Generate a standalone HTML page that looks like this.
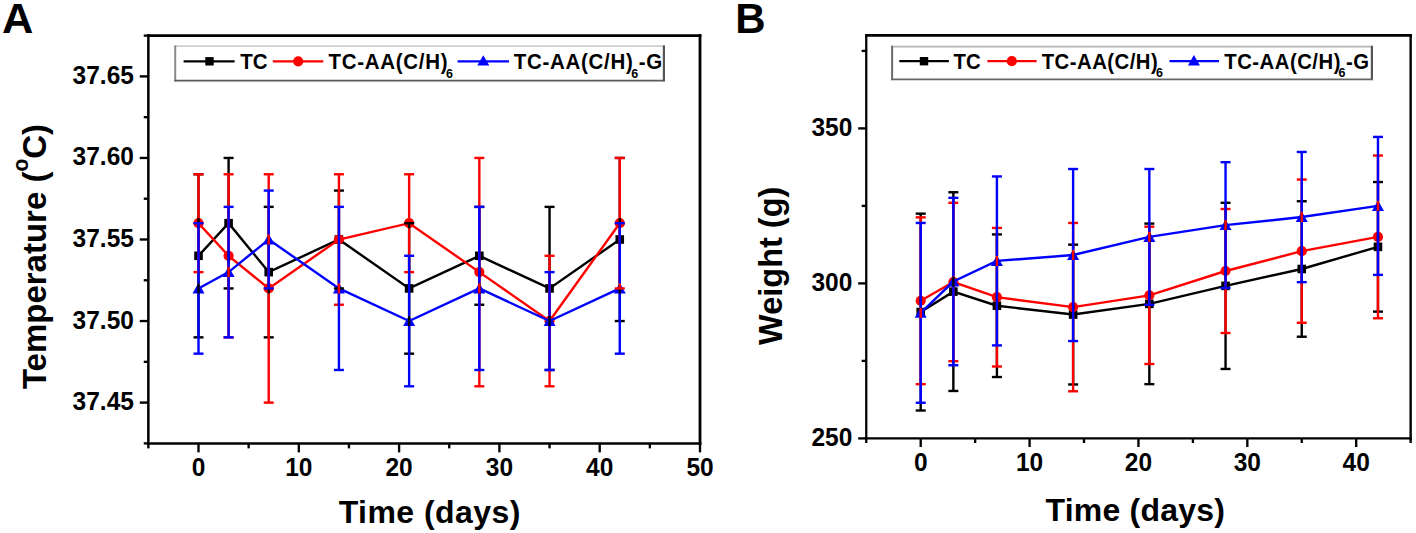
<!DOCTYPE html><html><head><meta charset="utf-8"><style>html,body{margin:0;padding:0;background:#fff;overflow:hidden;}svg{display:block}text{font-family:"Liberation Sans",sans-serif;font-weight:bold;fill:#000}</style></head><body>
<svg width="1416" height="533" viewBox="0 0 1416 533">
<rect width="1416" height="533" fill="#fff"/>
<text transform="translate(1.9 32.8)" font-size="43.4" text-anchor="start" >A</text>
<text transform="translate(735.3 32.9)" font-size="42" text-anchor="start" >B</text>
<line x1="147.1" y1="35.63" x2="701.4" y2="35.63" stroke="#000" stroke-width="2.8"/>
<line x1="700" y1="34.23" x2="700" y2="444.63" stroke="#000" stroke-width="2.8"/>
<line x1="147.1" y1="443.38" x2="701.4" y2="443.38" stroke="#000" stroke-width="2.5"/>
<line x1="148.35" y1="34.23" x2="148.35" y2="444.63" stroke="#000" stroke-width="2.5"/>
<line x1="139.75" y1="402.6" x2="148.35" y2="402.6" stroke="#000" stroke-width="2.35"/>
<text transform="translate(133.9 410.1) scale(1.0 1.055)" font-size="24.5" text-anchor="end" >37.45</text>
<line x1="139.75" y1="321.05" x2="148.35" y2="321.05" stroke="#000" stroke-width="2.35"/>
<text transform="translate(133.9 328.55) scale(1.0 1.055)" font-size="24.5" text-anchor="end" >37.50</text>
<line x1="139.75" y1="239.5" x2="148.35" y2="239.5" stroke="#000" stroke-width="2.35"/>
<text transform="translate(133.9 247) scale(1.0 1.055)" font-size="24.5" text-anchor="end" >37.55</text>
<line x1="139.75" y1="157.95" x2="148.35" y2="157.95" stroke="#000" stroke-width="2.35"/>
<text transform="translate(133.9 165.45) scale(1.0 1.055)" font-size="24.5" text-anchor="end" >37.60</text>
<line x1="139.75" y1="76.4" x2="148.35" y2="76.4" stroke="#000" stroke-width="2.35"/>
<text transform="translate(133.9 83.9) scale(1.0 1.055)" font-size="24.5" text-anchor="end" >37.65</text>
<line x1="143.75" y1="443.38" x2="148.35" y2="443.38" stroke="#000" stroke-width="2.35"/>
<line x1="143.75" y1="361.83" x2="148.35" y2="361.83" stroke="#000" stroke-width="2.35"/>
<line x1="143.75" y1="280.27" x2="148.35" y2="280.27" stroke="#000" stroke-width="2.35"/>
<line x1="143.75" y1="198.73" x2="148.35" y2="198.73" stroke="#000" stroke-width="2.35"/>
<line x1="143.75" y1="117.17" x2="148.35" y2="117.17" stroke="#000" stroke-width="2.35"/>
<line x1="143.75" y1="35.63" x2="148.35" y2="35.63" stroke="#000" stroke-width="2.35"/>
<line x1="198.5" y1="443.38" x2="198.5" y2="452.38" stroke="#000" stroke-width="2.35"/>
<text transform="translate(198.5 476.2) scale(1.0 1.055)" font-size="24.5" text-anchor="middle" >0</text>
<line x1="298.8" y1="443.38" x2="298.8" y2="452.38" stroke="#000" stroke-width="2.35"/>
<text transform="translate(298.8 476.2) scale(1.0 1.055)" font-size="24.5" text-anchor="middle" >10</text>
<line x1="399.1" y1="443.38" x2="399.1" y2="452.38" stroke="#000" stroke-width="2.35"/>
<text transform="translate(399.1 476.2) scale(1.0 1.055)" font-size="24.5" text-anchor="middle" >20</text>
<line x1="499.4" y1="443.38" x2="499.4" y2="452.38" stroke="#000" stroke-width="2.35"/>
<text transform="translate(499.4 476.2) scale(1.0 1.055)" font-size="24.5" text-anchor="middle" >30</text>
<line x1="599.7" y1="443.38" x2="599.7" y2="452.38" stroke="#000" stroke-width="2.35"/>
<text transform="translate(599.7 476.2) scale(1.0 1.055)" font-size="24.5" text-anchor="middle" >40</text>
<line x1="700" y1="443.38" x2="700" y2="452.38" stroke="#000" stroke-width="2.35"/>
<text transform="translate(700 476.2) scale(1.0 1.055)" font-size="24.5" text-anchor="middle" >50</text>
<line x1="148.35" y1="443.38" x2="148.35" y2="448.38" stroke="#000" stroke-width="2.35"/>
<line x1="248.65" y1="443.38" x2="248.65" y2="448.38" stroke="#000" stroke-width="2.35"/>
<line x1="348.95" y1="443.38" x2="348.95" y2="448.38" stroke="#000" stroke-width="2.35"/>
<line x1="449.25" y1="443.38" x2="449.25" y2="448.38" stroke="#000" stroke-width="2.35"/>
<line x1="549.55" y1="443.38" x2="549.55" y2="448.38" stroke="#000" stroke-width="2.35"/>
<line x1="649.85" y1="443.38" x2="649.85" y2="448.38" stroke="#000" stroke-width="2.35"/>
<text transform="translate(429.8 522.7)" font-size="32" text-anchor="middle" letter-spacing="0.45" >Time (days)</text>
<text transform="translate(45.7 256.5) rotate(-90) scale(1 1.026)" font-size="33" text-anchor="middle">Temperature (<tspan font-size="21" dy="-17">o</tspan><tspan dy="17">C)</tspan></text>
<line x1="865.11" y1="35.4" x2="1411.84" y2="35.4" stroke="#000" stroke-width="2.7"/>
<line x1="1410.64" y1="34.05" x2="1410.64" y2="439.55" stroke="#000" stroke-width="2.4"/>
<line x1="865.11" y1="438.4" x2="1411.84" y2="438.4" stroke="#000" stroke-width="2.3"/>
<line x1="866.26" y1="34.05" x2="866.26" y2="439.55" stroke="#000" stroke-width="2.3"/>
<line x1="858.16" y1="438.4" x2="866.26" y2="438.4" stroke="#000" stroke-width="2.35"/>
<text transform="translate(852.3 445.6) scale(1.0 1.055)" font-size="24.5" text-anchor="end" >250</text>
<line x1="858.16" y1="283.4" x2="866.26" y2="283.4" stroke="#000" stroke-width="2.35"/>
<text transform="translate(852.3 290.6) scale(1.0 1.055)" font-size="24.5" text-anchor="end" >300</text>
<line x1="858.16" y1="128.4" x2="866.26" y2="128.4" stroke="#000" stroke-width="2.35"/>
<text transform="translate(852.3 135.6) scale(1.0 1.055)" font-size="24.5" text-anchor="end" >350</text>
<line x1="861.66" y1="360.9" x2="866.26" y2="360.9" stroke="#000" stroke-width="2.35"/>
<line x1="861.66" y1="205.9" x2="866.26" y2="205.9" stroke="#000" stroke-width="2.35"/>
<line x1="861.66" y1="50.9" x2="866.26" y2="50.9" stroke="#000" stroke-width="2.35"/>
<line x1="920.7" y1="438.4" x2="920.7" y2="447" stroke="#000" stroke-width="2.35"/>
<text transform="translate(920.7 471.15) scale(1.0 1.055)" font-size="24.5" text-anchor="middle" >0</text>
<line x1="1029.58" y1="438.4" x2="1029.58" y2="447" stroke="#000" stroke-width="2.35"/>
<text transform="translate(1029.58 471.15) scale(1.0 1.055)" font-size="24.5" text-anchor="middle" >10</text>
<line x1="1138.45" y1="438.4" x2="1138.45" y2="447" stroke="#000" stroke-width="2.35"/>
<text transform="translate(1138.45 471.15) scale(1.0 1.055)" font-size="24.5" text-anchor="middle" >20</text>
<line x1="1247.33" y1="438.4" x2="1247.33" y2="447" stroke="#000" stroke-width="2.35"/>
<text transform="translate(1247.33 471.15) scale(1.0 1.055)" font-size="24.5" text-anchor="middle" >30</text>
<line x1="1356.2" y1="438.4" x2="1356.2" y2="447" stroke="#000" stroke-width="2.35"/>
<text transform="translate(1356.2 471.15) scale(1.0 1.055)" font-size="24.5" text-anchor="middle" >40</text>
<line x1="866.26" y1="438.4" x2="866.26" y2="443" stroke="#000" stroke-width="2.35"/>
<line x1="975.14" y1="438.4" x2="975.14" y2="443" stroke="#000" stroke-width="2.35"/>
<line x1="1084.01" y1="438.4" x2="1084.01" y2="443" stroke="#000" stroke-width="2.35"/>
<line x1="1192.89" y1="438.4" x2="1192.89" y2="443" stroke="#000" stroke-width="2.35"/>
<line x1="1301.76" y1="438.4" x2="1301.76" y2="443" stroke="#000" stroke-width="2.35"/>
<line x1="1410.64" y1="438.4" x2="1410.64" y2="443" stroke="#000" stroke-width="2.35"/>
<text transform="translate(1135.3 521.4)" font-size="32" text-anchor="middle" letter-spacing="0.2" >Time (days)</text>
<text transform="translate(781.5 265.8) rotate(-90) scale(1 1.015)" font-size="32.5" text-anchor="middle">Weight (g)</text>
<polyline points="198.5,255.81 228.59,223.19 268.71,272.12 338.92,239.5 409.13,288.43 479.34,255.81 549.55,288.43 619.76,239.5" fill="none" stroke="#000" stroke-width="2.4" stroke-linejoin="miter"/>
<rect x="194.2" y="251.51" width="8.6" height="8.6" fill="#000"/>
<rect x="224.29" y="218.89" width="8.6" height="8.6" fill="#000"/>
<rect x="264.41" y="267.82" width="8.6" height="8.6" fill="#000"/>
<rect x="334.62" y="235.2" width="8.6" height="8.6" fill="#000"/>
<rect x="404.83" y="284.13" width="8.6" height="8.6" fill="#000"/>
<rect x="475.04" y="251.51" width="8.6" height="8.6" fill="#000"/>
<rect x="545.25" y="284.13" width="8.6" height="8.6" fill="#000"/>
<rect x="615.46" y="235.2" width="8.6" height="8.6" fill="#000"/>
<polyline points="198.5,223.19 228.59,255.81 268.71,288.43 338.92,239.5 409.13,223.19 479.34,272.12 549.55,321.05 619.76,223.19" fill="none" stroke="#ff0000" stroke-width="2.4" stroke-linejoin="miter"/>
<circle cx="198.5" cy="223.19" r="5.1" fill="#ff0000"/>
<circle cx="228.59" cy="255.81" r="5.1" fill="#ff0000"/>
<circle cx="268.71" cy="288.43" r="5.1" fill="#ff0000"/>
<circle cx="338.92" cy="239.5" r="5.1" fill="#ff0000"/>
<circle cx="409.13" cy="223.19" r="5.1" fill="#ff0000"/>
<circle cx="479.34" cy="272.12" r="5.1" fill="#ff0000"/>
<circle cx="549.55" cy="321.05" r="5.1" fill="#ff0000"/>
<circle cx="619.76" cy="223.19" r="5.1" fill="#ff0000"/>
<polyline points="198.5,288.43 228.59,272.12 268.71,239.5 338.92,288.43 409.13,321.05 479.34,288.43 549.55,321.05 619.76,288.43" fill="none" stroke="#0000ff" stroke-width="2.4" stroke-linejoin="miter"/>
<path d="M198.5 282.73L204.5 293.43L192.5 293.43Z" fill="#0000ff"/>
<path d="M228.59 266.42L234.59 277.12L222.59 277.12Z" fill="#0000ff"/>
<path d="M268.71 233.8L274.71 244.5L262.71 244.5Z" fill="#0000ff"/>
<path d="M338.92 282.73L344.92 293.43L332.92 293.43Z" fill="#0000ff"/>
<path d="M409.13 315.35L415.13 326.05L403.13 326.05Z" fill="#0000ff"/>
<path d="M479.34 282.73L485.34 293.43L473.34 293.43Z" fill="#0000ff"/>
<path d="M549.55 315.35L555.55 326.05L543.55 326.05Z" fill="#0000ff"/>
<path d="M619.76 282.73L625.76 293.43L613.76 293.43Z" fill="#0000ff"/>
<line x1="198.5" y1="174.26" x2="198.5" y2="251.51" stroke="#000" stroke-width="2.4"/>
<line x1="198.5" y1="260.11" x2="198.5" y2="337.36" stroke="#000" stroke-width="2.4"/>
<line x1="193.5" y1="174.26" x2="203.5" y2="174.26" stroke="#000" stroke-width="2.4"/>
<line x1="193.5" y1="337.36" x2="203.5" y2="337.36" stroke="#000" stroke-width="2.4"/>
<line x1="228.59" y1="157.95" x2="228.59" y2="218.89" stroke="#000" stroke-width="2.4"/>
<line x1="228.59" y1="227.49" x2="228.59" y2="288.43" stroke="#000" stroke-width="2.4"/>
<line x1="223.59" y1="157.95" x2="233.59" y2="157.95" stroke="#000" stroke-width="2.4"/>
<line x1="223.59" y1="288.43" x2="233.59" y2="288.43" stroke="#000" stroke-width="2.4"/>
<line x1="268.71" y1="206.88" x2="268.71" y2="267.82" stroke="#000" stroke-width="2.4"/>
<line x1="268.71" y1="276.42" x2="268.71" y2="337.36" stroke="#000" stroke-width="2.4"/>
<line x1="263.71" y1="206.88" x2="273.71" y2="206.88" stroke="#000" stroke-width="2.4"/>
<line x1="263.71" y1="337.36" x2="273.71" y2="337.36" stroke="#000" stroke-width="2.4"/>
<line x1="338.92" y1="190.57" x2="338.92" y2="235.2" stroke="#000" stroke-width="2.4"/>
<line x1="338.92" y1="243.8" x2="338.92" y2="288.43" stroke="#000" stroke-width="2.4"/>
<line x1="333.92" y1="190.57" x2="343.92" y2="190.57" stroke="#000" stroke-width="2.4"/>
<line x1="333.92" y1="288.43" x2="343.92" y2="288.43" stroke="#000" stroke-width="2.4"/>
<line x1="409.13" y1="223.19" x2="409.13" y2="284.13" stroke="#000" stroke-width="2.4"/>
<line x1="409.13" y1="292.73" x2="409.13" y2="353.67" stroke="#000" stroke-width="2.4"/>
<line x1="404.13" y1="223.19" x2="414.13" y2="223.19" stroke="#000" stroke-width="2.4"/>
<line x1="404.13" y1="353.67" x2="414.13" y2="353.67" stroke="#000" stroke-width="2.4"/>
<line x1="479.34" y1="206.88" x2="479.34" y2="251.51" stroke="#000" stroke-width="2.4"/>
<line x1="479.34" y1="260.11" x2="479.34" y2="304.74" stroke="#000" stroke-width="2.4"/>
<line x1="474.34" y1="206.88" x2="484.34" y2="206.88" stroke="#000" stroke-width="2.4"/>
<line x1="474.34" y1="304.74" x2="484.34" y2="304.74" stroke="#000" stroke-width="2.4"/>
<line x1="549.55" y1="206.88" x2="549.55" y2="284.13" stroke="#000" stroke-width="2.4"/>
<line x1="549.55" y1="292.73" x2="549.55" y2="369.98" stroke="#000" stroke-width="2.4"/>
<line x1="544.55" y1="206.88" x2="554.55" y2="206.88" stroke="#000" stroke-width="2.4"/>
<line x1="544.55" y1="369.98" x2="554.55" y2="369.98" stroke="#000" stroke-width="2.4"/>
<line x1="619.76" y1="157.95" x2="619.76" y2="235.2" stroke="#000" stroke-width="2.4"/>
<line x1="619.76" y1="243.8" x2="619.76" y2="321.05" stroke="#000" stroke-width="2.4"/>
<line x1="614.76" y1="157.95" x2="624.76" y2="157.95" stroke="#000" stroke-width="2.4"/>
<line x1="614.76" y1="321.05" x2="624.76" y2="321.05" stroke="#000" stroke-width="2.4"/>
<line x1="198.5" y1="174.26" x2="198.5" y2="218.09" stroke="#ff0000" stroke-width="2.4"/>
<line x1="198.5" y1="228.29" x2="198.5" y2="272.12" stroke="#ff0000" stroke-width="2.4"/>
<line x1="193.5" y1="174.26" x2="203.5" y2="174.26" stroke="#ff0000" stroke-width="2.4"/>
<line x1="193.5" y1="272.12" x2="203.5" y2="272.12" stroke="#ff0000" stroke-width="2.4"/>
<line x1="228.59" y1="174.26" x2="228.59" y2="250.71" stroke="#ff0000" stroke-width="2.4"/>
<line x1="228.59" y1="260.91" x2="228.59" y2="337.36" stroke="#ff0000" stroke-width="2.4"/>
<line x1="223.59" y1="174.26" x2="233.59" y2="174.26" stroke="#ff0000" stroke-width="2.4"/>
<line x1="223.59" y1="337.36" x2="233.59" y2="337.36" stroke="#ff0000" stroke-width="2.4"/>
<line x1="268.71" y1="174.26" x2="268.71" y2="283.33" stroke="#ff0000" stroke-width="2.4"/>
<line x1="268.71" y1="293.53" x2="268.71" y2="402.6" stroke="#ff0000" stroke-width="2.4"/>
<line x1="263.71" y1="174.26" x2="273.71" y2="174.26" stroke="#ff0000" stroke-width="2.4"/>
<line x1="263.71" y1="402.6" x2="273.71" y2="402.6" stroke="#ff0000" stroke-width="2.4"/>
<line x1="338.92" y1="174.26" x2="338.92" y2="234.4" stroke="#ff0000" stroke-width="2.4"/>
<line x1="338.92" y1="244.6" x2="338.92" y2="304.74" stroke="#ff0000" stroke-width="2.4"/>
<line x1="333.92" y1="174.26" x2="343.92" y2="174.26" stroke="#ff0000" stroke-width="2.4"/>
<line x1="333.92" y1="304.74" x2="343.92" y2="304.74" stroke="#ff0000" stroke-width="2.4"/>
<line x1="409.13" y1="174.26" x2="409.13" y2="218.09" stroke="#ff0000" stroke-width="2.4"/>
<line x1="409.13" y1="228.29" x2="409.13" y2="272.12" stroke="#ff0000" stroke-width="2.4"/>
<line x1="404.13" y1="174.26" x2="414.13" y2="174.26" stroke="#ff0000" stroke-width="2.4"/>
<line x1="404.13" y1="272.12" x2="414.13" y2="272.12" stroke="#ff0000" stroke-width="2.4"/>
<line x1="479.34" y1="157.95" x2="479.34" y2="267.02" stroke="#ff0000" stroke-width="2.4"/>
<line x1="479.34" y1="277.22" x2="479.34" y2="386.29" stroke="#ff0000" stroke-width="2.4"/>
<line x1="474.34" y1="157.95" x2="484.34" y2="157.95" stroke="#ff0000" stroke-width="2.4"/>
<line x1="474.34" y1="386.29" x2="484.34" y2="386.29" stroke="#ff0000" stroke-width="2.4"/>
<line x1="549.55" y1="255.81" x2="549.55" y2="315.95" stroke="#ff0000" stroke-width="2.4"/>
<line x1="549.55" y1="326.15" x2="549.55" y2="386.29" stroke="#ff0000" stroke-width="2.4"/>
<line x1="544.55" y1="255.81" x2="554.55" y2="255.81" stroke="#ff0000" stroke-width="2.4"/>
<line x1="544.55" y1="386.29" x2="554.55" y2="386.29" stroke="#ff0000" stroke-width="2.4"/>
<line x1="619.76" y1="157.95" x2="619.76" y2="218.09" stroke="#ff0000" stroke-width="2.4"/>
<line x1="619.76" y1="228.29" x2="619.76" y2="288.43" stroke="#ff0000" stroke-width="2.4"/>
<line x1="614.76" y1="157.95" x2="624.76" y2="157.95" stroke="#ff0000" stroke-width="2.4"/>
<line x1="614.76" y1="288.43" x2="624.76" y2="288.43" stroke="#ff0000" stroke-width="2.4"/>
<line x1="198.5" y1="223.19" x2="198.5" y2="283.43" stroke="#0000ff" stroke-width="2.4"/>
<line x1="198.5" y1="293.43" x2="198.5" y2="353.67" stroke="#0000ff" stroke-width="2.4"/>
<line x1="193.5" y1="223.19" x2="203.5" y2="223.19" stroke="#0000ff" stroke-width="2.4"/>
<line x1="193.5" y1="353.67" x2="203.5" y2="353.67" stroke="#0000ff" stroke-width="2.4"/>
<line x1="228.59" y1="206.88" x2="228.59" y2="267.12" stroke="#0000ff" stroke-width="2.4"/>
<line x1="228.59" y1="277.12" x2="228.59" y2="337.36" stroke="#0000ff" stroke-width="2.4"/>
<line x1="223.59" y1="206.88" x2="233.59" y2="206.88" stroke="#0000ff" stroke-width="2.4"/>
<line x1="223.59" y1="337.36" x2="233.59" y2="337.36" stroke="#0000ff" stroke-width="2.4"/>
<line x1="268.71" y1="190.57" x2="268.71" y2="234.5" stroke="#0000ff" stroke-width="2.4"/>
<line x1="268.71" y1="244.5" x2="268.71" y2="288.43" stroke="#0000ff" stroke-width="2.4"/>
<line x1="263.71" y1="190.57" x2="273.71" y2="190.57" stroke="#0000ff" stroke-width="2.4"/>
<line x1="263.71" y1="288.43" x2="273.71" y2="288.43" stroke="#0000ff" stroke-width="2.4"/>
<line x1="338.92" y1="206.88" x2="338.92" y2="283.43" stroke="#0000ff" stroke-width="2.4"/>
<line x1="338.92" y1="293.43" x2="338.92" y2="369.98" stroke="#0000ff" stroke-width="2.4"/>
<line x1="333.92" y1="206.88" x2="343.92" y2="206.88" stroke="#0000ff" stroke-width="2.4"/>
<line x1="333.92" y1="369.98" x2="343.92" y2="369.98" stroke="#0000ff" stroke-width="2.4"/>
<line x1="409.13" y1="255.81" x2="409.13" y2="316.05" stroke="#0000ff" stroke-width="2.4"/>
<line x1="409.13" y1="326.05" x2="409.13" y2="386.29" stroke="#0000ff" stroke-width="2.4"/>
<line x1="404.13" y1="255.81" x2="414.13" y2="255.81" stroke="#0000ff" stroke-width="2.4"/>
<line x1="404.13" y1="386.29" x2="414.13" y2="386.29" stroke="#0000ff" stroke-width="2.4"/>
<line x1="479.34" y1="206.88" x2="479.34" y2="283.43" stroke="#0000ff" stroke-width="2.4"/>
<line x1="479.34" y1="293.43" x2="479.34" y2="369.98" stroke="#0000ff" stroke-width="2.4"/>
<line x1="474.34" y1="206.88" x2="484.34" y2="206.88" stroke="#0000ff" stroke-width="2.4"/>
<line x1="474.34" y1="369.98" x2="484.34" y2="369.98" stroke="#0000ff" stroke-width="2.4"/>
<line x1="549.55" y1="272.12" x2="549.55" y2="316.05" stroke="#0000ff" stroke-width="2.4"/>
<line x1="549.55" y1="326.05" x2="549.55" y2="369.98" stroke="#0000ff" stroke-width="2.4"/>
<line x1="544.55" y1="272.12" x2="554.55" y2="272.12" stroke="#0000ff" stroke-width="2.4"/>
<line x1="544.55" y1="369.98" x2="554.55" y2="369.98" stroke="#0000ff" stroke-width="2.4"/>
<line x1="619.76" y1="223.19" x2="619.76" y2="283.43" stroke="#0000ff" stroke-width="2.4"/>
<line x1="619.76" y1="293.43" x2="619.76" y2="353.67" stroke="#0000ff" stroke-width="2.4"/>
<line x1="614.76" y1="223.19" x2="624.76" y2="223.19" stroke="#0000ff" stroke-width="2.4"/>
<line x1="614.76" y1="353.67" x2="624.76" y2="353.67" stroke="#0000ff" stroke-width="2.4"/>
<polyline points="920.7,312.07 953.36,291.61 996.91,305.72 1073.12,314.56 1149.34,303.86 1225.55,285.88 1301.76,268.99 1377.97,246.82" fill="none" stroke="#000" stroke-width="2.4" stroke-linejoin="miter"/>
<rect x="916.4" y="307.77" width="8.6" height="8.6" fill="#000"/>
<rect x="949.06" y="287.31" width="8.6" height="8.6" fill="#000"/>
<rect x="992.61" y="301.42" width="8.6" height="8.6" fill="#000"/>
<rect x="1068.83" y="310.25" width="8.6" height="8.6" fill="#000"/>
<rect x="1145.04" y="299.56" width="8.6" height="8.6" fill="#000"/>
<rect x="1221.25" y="281.58" width="8.6" height="8.6" fill="#000"/>
<rect x="1297.46" y="264.69" width="8.6" height="8.6" fill="#000"/>
<rect x="1373.67" y="242.52" width="8.6" height="8.6" fill="#000"/>
<polyline points="920.7,300.76 953.36,282 996.91,297.19 1073.12,307.11 1149.34,295.34 1225.55,271 1301.76,251.16 1377.97,236.9" fill="none" stroke="#ff0000" stroke-width="2.4" stroke-linejoin="miter"/>
<circle cx="920.7" cy="300.76" r="5.1" fill="#ff0000"/>
<circle cx="953.36" cy="282" r="5.1" fill="#ff0000"/>
<circle cx="996.91" cy="297.19" r="5.1" fill="#ff0000"/>
<circle cx="1073.12" cy="307.11" r="5.1" fill="#ff0000"/>
<circle cx="1149.34" cy="295.34" r="5.1" fill="#ff0000"/>
<circle cx="1225.55" cy="271" r="5.1" fill="#ff0000"/>
<circle cx="1301.76" cy="251.16" r="5.1" fill="#ff0000"/>
<circle cx="1377.97" cy="236.9" r="5.1" fill="#ff0000"/>
<polyline points="920.7,312.85 953.36,281.54 996.91,260.92 1073.12,255.04 1149.34,236.9 1225.55,225.12 1301.76,217.06 1377.97,205.9" fill="none" stroke="#0000ff" stroke-width="2.4" stroke-linejoin="miter"/>
<path d="M920.7 307.15L926.7 317.85L914.7 317.85Z" fill="#0000ff"/>
<path d="M953.36 275.84L959.36 286.54L947.36 286.54Z" fill="#0000ff"/>
<path d="M996.91 255.22L1002.91 265.92L990.91 265.92Z" fill="#0000ff"/>
<path d="M1073.12 249.34L1079.12 260.04L1067.12 260.04Z" fill="#0000ff"/>
<path d="M1149.34 231.2L1155.34 241.9L1143.34 241.9Z" fill="#0000ff"/>
<path d="M1225.55 219.42L1231.55 230.12L1219.55 230.12Z" fill="#0000ff"/>
<path d="M1301.76 211.36L1307.76 222.06L1295.76 222.06Z" fill="#0000ff"/>
<path d="M1377.97 200.2L1383.97 210.9L1371.97 210.9Z" fill="#0000ff"/>
<line x1="920.7" y1="213.65" x2="920.7" y2="307.77" stroke="#000" stroke-width="2.4"/>
<line x1="920.7" y1="316.38" x2="920.7" y2="410.5" stroke="#000" stroke-width="2.4"/>
<line x1="915.7" y1="213.65" x2="925.7" y2="213.65" stroke="#000" stroke-width="2.4"/>
<line x1="915.7" y1="410.5" x2="925.7" y2="410.5" stroke="#000" stroke-width="2.4"/>
<line x1="953.36" y1="192.26" x2="953.36" y2="287.31" stroke="#000" stroke-width="2.4"/>
<line x1="953.36" y1="295.91" x2="953.36" y2="390.97" stroke="#000" stroke-width="2.4"/>
<line x1="948.36" y1="192.26" x2="958.36" y2="192.26" stroke="#000" stroke-width="2.4"/>
<line x1="948.36" y1="390.97" x2="958.36" y2="390.97" stroke="#000" stroke-width="2.4"/>
<line x1="996.91" y1="234.42" x2="996.91" y2="301.42" stroke="#000" stroke-width="2.4"/>
<line x1="996.91" y1="310.02" x2="996.91" y2="377.02" stroke="#000" stroke-width="2.4"/>
<line x1="991.91" y1="234.42" x2="1001.91" y2="234.42" stroke="#000" stroke-width="2.4"/>
<line x1="991.91" y1="377.02" x2="1001.91" y2="377.02" stroke="#000" stroke-width="2.4"/>
<line x1="1073.12" y1="244.65" x2="1073.12" y2="310.25" stroke="#000" stroke-width="2.4"/>
<line x1="1073.12" y1="318.86" x2="1073.12" y2="384.46" stroke="#000" stroke-width="2.4"/>
<line x1="1068.12" y1="244.65" x2="1078.12" y2="244.65" stroke="#000" stroke-width="2.4"/>
<line x1="1068.12" y1="384.46" x2="1078.12" y2="384.46" stroke="#000" stroke-width="2.4"/>
<line x1="1149.34" y1="223.57" x2="1149.34" y2="299.56" stroke="#000" stroke-width="2.4"/>
<line x1="1149.34" y1="308.16" x2="1149.34" y2="384.15" stroke="#000" stroke-width="2.4"/>
<line x1="1144.34" y1="223.57" x2="1154.34" y2="223.57" stroke="#000" stroke-width="2.4"/>
<line x1="1144.34" y1="384.15" x2="1154.34" y2="384.15" stroke="#000" stroke-width="2.4"/>
<line x1="1225.55" y1="202.8" x2="1225.55" y2="281.58" stroke="#000" stroke-width="2.4"/>
<line x1="1225.55" y1="290.18" x2="1225.55" y2="368.96" stroke="#000" stroke-width="2.4"/>
<line x1="1220.55" y1="202.8" x2="1230.55" y2="202.8" stroke="#000" stroke-width="2.4"/>
<line x1="1220.55" y1="368.96" x2="1230.55" y2="368.96" stroke="#000" stroke-width="2.4"/>
<line x1="1301.76" y1="201.25" x2="1301.76" y2="264.69" stroke="#000" stroke-width="2.4"/>
<line x1="1301.76" y1="273.29" x2="1301.76" y2="336.72" stroke="#000" stroke-width="2.4"/>
<line x1="1296.76" y1="201.25" x2="1306.76" y2="201.25" stroke="#000" stroke-width="2.4"/>
<line x1="1296.76" y1="336.72" x2="1306.76" y2="336.72" stroke="#000" stroke-width="2.4"/>
<line x1="1377.97" y1="182.03" x2="1377.97" y2="242.52" stroke="#000" stroke-width="2.4"/>
<line x1="1377.97" y1="251.12" x2="1377.97" y2="311.61" stroke="#000" stroke-width="2.4"/>
<line x1="1372.97" y1="182.03" x2="1382.97" y2="182.03" stroke="#000" stroke-width="2.4"/>
<line x1="1372.97" y1="311.61" x2="1382.97" y2="311.61" stroke="#000" stroke-width="2.4"/>
<line x1="920.7" y1="217.37" x2="920.7" y2="295.66" stroke="#ff0000" stroke-width="2.4"/>
<line x1="920.7" y1="305.86" x2="920.7" y2="384.15" stroke="#ff0000" stroke-width="2.4"/>
<line x1="915.7" y1="217.37" x2="925.7" y2="217.37" stroke="#ff0000" stroke-width="2.4"/>
<line x1="915.7" y1="384.15" x2="925.7" y2="384.15" stroke="#ff0000" stroke-width="2.4"/>
<line x1="953.36" y1="202.8" x2="953.36" y2="276.9" stroke="#ff0000" stroke-width="2.4"/>
<line x1="953.36" y1="287.11" x2="953.36" y2="361.21" stroke="#ff0000" stroke-width="2.4"/>
<line x1="948.36" y1="202.8" x2="958.36" y2="202.8" stroke="#ff0000" stroke-width="2.4"/>
<line x1="948.36" y1="361.21" x2="958.36" y2="361.21" stroke="#ff0000" stroke-width="2.4"/>
<line x1="996.91" y1="227.91" x2="996.91" y2="292.09" stroke="#ff0000" stroke-width="2.4"/>
<line x1="996.91" y1="302.29" x2="996.91" y2="366.48" stroke="#ff0000" stroke-width="2.4"/>
<line x1="991.91" y1="227.91" x2="1001.91" y2="227.91" stroke="#ff0000" stroke-width="2.4"/>
<line x1="991.91" y1="366.48" x2="1001.91" y2="366.48" stroke="#ff0000" stroke-width="2.4"/>
<line x1="1073.12" y1="222.95" x2="1073.12" y2="302.01" stroke="#ff0000" stroke-width="2.4"/>
<line x1="1073.12" y1="312.21" x2="1073.12" y2="391.28" stroke="#ff0000" stroke-width="2.4"/>
<line x1="1068.12" y1="222.95" x2="1078.12" y2="222.95" stroke="#ff0000" stroke-width="2.4"/>
<line x1="1068.12" y1="391.28" x2="1078.12" y2="391.28" stroke="#ff0000" stroke-width="2.4"/>
<line x1="1149.34" y1="226.67" x2="1149.34" y2="290.24" stroke="#ff0000" stroke-width="2.4"/>
<line x1="1149.34" y1="300.44" x2="1149.34" y2="364" stroke="#ff0000" stroke-width="2.4"/>
<line x1="1144.34" y1="226.67" x2="1154.34" y2="226.67" stroke="#ff0000" stroke-width="2.4"/>
<line x1="1144.34" y1="364" x2="1154.34" y2="364" stroke="#ff0000" stroke-width="2.4"/>
<line x1="1225.55" y1="209" x2="1225.55" y2="265.9" stroke="#ff0000" stroke-width="2.4"/>
<line x1="1225.55" y1="276.1" x2="1225.55" y2="333" stroke="#ff0000" stroke-width="2.4"/>
<line x1="1220.55" y1="209" x2="1230.55" y2="209" stroke="#ff0000" stroke-width="2.4"/>
<line x1="1220.55" y1="333" x2="1230.55" y2="333" stroke="#ff0000" stroke-width="2.4"/>
<line x1="1301.76" y1="179.55" x2="1301.76" y2="246.06" stroke="#ff0000" stroke-width="2.4"/>
<line x1="1301.76" y1="256.26" x2="1301.76" y2="322.77" stroke="#ff0000" stroke-width="2.4"/>
<line x1="1296.76" y1="179.55" x2="1306.76" y2="179.55" stroke="#ff0000" stroke-width="2.4"/>
<line x1="1296.76" y1="322.77" x2="1306.76" y2="322.77" stroke="#ff0000" stroke-width="2.4"/>
<line x1="1377.97" y1="155.52" x2="1377.97" y2="231.8" stroke="#ff0000" stroke-width="2.4"/>
<line x1="1377.97" y1="242" x2="1377.97" y2="318.27" stroke="#ff0000" stroke-width="2.4"/>
<line x1="1372.97" y1="155.52" x2="1382.97" y2="155.52" stroke="#ff0000" stroke-width="2.4"/>
<line x1="1372.97" y1="318.27" x2="1382.97" y2="318.27" stroke="#ff0000" stroke-width="2.4"/>
<line x1="920.7" y1="222.95" x2="920.7" y2="307.85" stroke="#0000ff" stroke-width="2.4"/>
<line x1="920.7" y1="317.85" x2="920.7" y2="402.75" stroke="#0000ff" stroke-width="2.4"/>
<line x1="915.7" y1="222.95" x2="925.7" y2="222.95" stroke="#0000ff" stroke-width="2.4"/>
<line x1="915.7" y1="402.75" x2="925.7" y2="402.75" stroke="#0000ff" stroke-width="2.4"/>
<line x1="953.36" y1="197.84" x2="953.36" y2="276.54" stroke="#0000ff" stroke-width="2.4"/>
<line x1="953.36" y1="286.54" x2="953.36" y2="365.24" stroke="#0000ff" stroke-width="2.4"/>
<line x1="948.36" y1="197.84" x2="958.36" y2="197.84" stroke="#0000ff" stroke-width="2.4"/>
<line x1="948.36" y1="365.24" x2="958.36" y2="365.24" stroke="#0000ff" stroke-width="2.4"/>
<line x1="996.91" y1="176.45" x2="996.91" y2="255.92" stroke="#0000ff" stroke-width="2.4"/>
<line x1="996.91" y1="265.92" x2="996.91" y2="345.4" stroke="#0000ff" stroke-width="2.4"/>
<line x1="991.91" y1="176.45" x2="1001.91" y2="176.45" stroke="#0000ff" stroke-width="2.4"/>
<line x1="991.91" y1="345.4" x2="1001.91" y2="345.4" stroke="#0000ff" stroke-width="2.4"/>
<line x1="1073.12" y1="169.01" x2="1073.12" y2="250.04" stroke="#0000ff" stroke-width="2.4"/>
<line x1="1073.12" y1="260.04" x2="1073.12" y2="341.06" stroke="#0000ff" stroke-width="2.4"/>
<line x1="1068.12" y1="169.01" x2="1078.12" y2="169.01" stroke="#0000ff" stroke-width="2.4"/>
<line x1="1068.12" y1="341.06" x2="1078.12" y2="341.06" stroke="#0000ff" stroke-width="2.4"/>
<line x1="1149.34" y1="169.01" x2="1149.34" y2="231.9" stroke="#0000ff" stroke-width="2.4"/>
<line x1="1149.34" y1="241.9" x2="1149.34" y2="304.79" stroke="#0000ff" stroke-width="2.4"/>
<line x1="1144.34" y1="169.01" x2="1154.34" y2="169.01" stroke="#0000ff" stroke-width="2.4"/>
<line x1="1144.34" y1="304.79" x2="1154.34" y2="304.79" stroke="#0000ff" stroke-width="2.4"/>
<line x1="1225.55" y1="162.19" x2="1225.55" y2="220.12" stroke="#0000ff" stroke-width="2.4"/>
<line x1="1225.55" y1="230.12" x2="1225.55" y2="288.05" stroke="#0000ff" stroke-width="2.4"/>
<line x1="1220.55" y1="162.19" x2="1230.55" y2="162.19" stroke="#0000ff" stroke-width="2.4"/>
<line x1="1220.55" y1="288.05" x2="1230.55" y2="288.05" stroke="#0000ff" stroke-width="2.4"/>
<line x1="1301.76" y1="151.96" x2="1301.76" y2="212.06" stroke="#0000ff" stroke-width="2.4"/>
<line x1="1301.76" y1="222.06" x2="1301.76" y2="282.16" stroke="#0000ff" stroke-width="2.4"/>
<line x1="1296.76" y1="151.96" x2="1306.76" y2="151.96" stroke="#0000ff" stroke-width="2.4"/>
<line x1="1296.76" y1="282.16" x2="1306.76" y2="282.16" stroke="#0000ff" stroke-width="2.4"/>
<line x1="1377.97" y1="136.92" x2="1377.97" y2="200.9" stroke="#0000ff" stroke-width="2.4"/>
<line x1="1377.97" y1="210.9" x2="1377.97" y2="274.88" stroke="#0000ff" stroke-width="2.4"/>
<line x1="1372.97" y1="136.92" x2="1382.97" y2="136.92" stroke="#0000ff" stroke-width="2.4"/>
<line x1="1372.97" y1="274.88" x2="1382.97" y2="274.88" stroke="#0000ff" stroke-width="2.4"/>
<rect x="175.2" y="46.2" width="488.7" height="34.4" fill="#fff"/>
<line x1="174.4" y1="46.2" x2="664.7" y2="46.2" stroke="#cfcfcf" stroke-width="1.7"/>
<line x1="175.2" y1="45.4" x2="175.2" y2="81.4" stroke="#8a8a8a" stroke-width="2.0"/>
<line x1="663.9" y1="45.4" x2="663.9" y2="81.4" stroke="#555" stroke-width="2.2"/>
<line x1="174.4" y1="80.6" x2="664.7" y2="80.6" stroke="#5a5a5a" stroke-width="1.8"/>
<line x1="183.6" y1="61.3" x2="234.6" y2="61.3" stroke="#000" stroke-width="2.3"/>
<rect x="205.3" y="57.1" width="8.4" height="8.4" fill="#000"/>
<line x1="272.8" y1="61.3" x2="323.3" y2="61.3" stroke="#ff0000" stroke-width="2.3"/>
<circle cx="298.2" cy="61.3" r="5.1" fill="#ff0000"/>
<line x1="457.6" y1="61.3" x2="509" y2="61.3" stroke="#0000ff" stroke-width="2.3"/>
<path d="M483.3 55.2L489.3 65.5L477.3 65.5Z" fill="#0000ff"/>
<text transform="translate(240.3 68.7) scale(1 1.07)" font-size="20.5">TC</text>
<text transform="translate(328.6 68.7) scale(1 1.07)" font-size="20.5" letter-spacing="0.7">TC-AA(C/H)<tspan font-size="12.5" dx="-2.3" dy="8.3">6</tspan><tspan dy="-8.3"></tspan></text>
<text transform="translate(513.8 68.7) scale(1 1.07)" font-size="20.5" letter-spacing="0.7">TC-AA(C/H)<tspan font-size="12.5" dx="-2.3" dy="8.3">6</tspan><tspan dy="-8.3">-G</tspan></text>
<rect x="892.1" y="46.6" width="479.8" height="32.7" fill="#fff"/>
<line x1="891.3" y1="46.6" x2="1372.7" y2="46.6" stroke="#b5b5b5" stroke-width="1.7"/>
<line x1="892.1" y1="45.8" x2="892.1" y2="80.1" stroke="#6a6a6a" stroke-width="2.0"/>
<line x1="1371.9" y1="45.8" x2="1371.9" y2="80.1" stroke="#555" stroke-width="2.2"/>
<line x1="891.3" y1="79.3" x2="1372.7" y2="79.3" stroke="#666" stroke-width="1.8"/>
<line x1="899.3" y1="61.2" x2="948.9" y2="61.2" stroke="#000" stroke-width="2.3"/>
<rect x="919.8" y="57" width="8.4" height="8.4" fill="#000"/>
<line x1="987.4" y1="61.2" x2="1036.6" y2="61.2" stroke="#ff0000" stroke-width="2.3"/>
<circle cx="1011.8" cy="61.2" r="5.1" fill="#ff0000"/>
<line x1="1169.5" y1="61.2" x2="1219" y2="61.2" stroke="#0000ff" stroke-width="2.3"/>
<path d="M1193.9 55.1L1199.9 65.4L1187.9 65.4Z" fill="#0000ff"/>
<text transform="translate(953.6 68.6) scale(1 1.07)" font-size="20.3">TC</text>
<text transform="translate(1041.7 68.6) scale(1 1.07)" font-size="20.3" letter-spacing="0.5">TC-AA(C/H)<tspan font-size="12.5" dx="-2.3" dy="8.3">6</tspan><tspan dy="-8.3"></tspan></text>
<text transform="translate(1224.3 68.6) scale(1 1.07)" font-size="20.3" letter-spacing="0.5">TC-AA(C/H)<tspan font-size="12.5" dx="-2.3" dy="8.3">6</tspan><tspan dy="-8.3">-G</tspan></text>
</svg></body></html>
